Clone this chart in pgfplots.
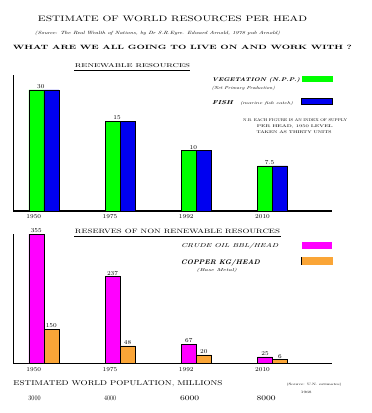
\documentclass[border=0pt]{standalone}
\usepackage{graphicx}
\usepackage{pgfplots}
\pgfplotsset{compat=1.18}
\definecolor{vgreen}{RGB}{0,255,0}
\definecolor{fblue}{RGB}{0,0,240}
\definecolor{oilmag}{RGB}{255,0,255}
\definecolor{copor}{RGB}{250,165,55}
\newcommand\fit[3]{\resizebox{#1pt}{#2pt}{#3}}
\newcommand\T[5]{\node[inner sep=0pt] at (#1pt,-#2pt) {\fit{#3}{#4}{#5}};}
\pgfplotsset{resbar/.style={scale only axis, width=318.7pt,
  axis x line=bottom, axis y line=left, axis line style={-, line width=1.3pt},
  ytick=\empty, xtick={0,1,2,3}, major tick length=0pt,
  xmin=-0.40, xmax=3.78, ymin=0, enlargelimits=false, clip=false,
  ybar, bar width=15pt,
  xticklabel style={font=\fontsize{6}{6}\selectfont, xshift=-10pt},
  every node near coord/.append style={font=\fontsize{6}{6}\selectfont, inner sep=1pt}}}
\begin{document}
\begin{tikzpicture}
\path (0pt,0pt) rectangle (372pt,-413pt);
% titles
\T{172.5}{19}{269}{5.7}{ESTIMATE OF WORLD RESOURCES PER HEAD}
\T{157.5}{33.5}{245}{3.4}{\itshape (Source: The Real Wealth of Nations, by Dr S.R.Eyre. Edward Arnold, 1978 pub Arnold)}
\T{182.5}{47}{339}{4.3}{\bfseries WHAT ARE WE ALL GOING TO LIVE ON AND WORK WITH ?}
% renewable
\T{132.5}{65.3}{115}{4}{RENEWABLE RESOURCES}
\draw[line width=0.8pt] (74pt,-70pt) -- (190pt,-70pt);
\T{256}{79.7}{88}{4}{\bfseries\itshape VEGETATION (N.P.P.)}
\T{243.3}{88.7}{63}{3.3}{\itshape (Net Primary Production)}
\T{222.5}{102.8}{21}{4}{\bfseries\itshape FISH}
\T{266.5}{103.3}{53}{3}{\itshape (marine fish catch)}
\fill[vgreen] (302.3pt,-75.7pt) rectangle (332.7pt,-81.7pt);
\filldraw[fill=fblue, draw=black, line width=0.6pt] (301.7pt,-98.3pt) rectangle (332.7pt,-104.7pt);
\T{295}{119.7}{104}{2.8}{N.B. EACH FIGURE IS AN INDEX OF SUPPLY}
\T{294.8}{126.3}{76}{2.8}{PER HEAD, 1950 LEVEL}
\T{294.2}{132.3}{75}{2.8}{TAKEN AS THIRTY UNITS}
% non renewable
\T{177.5}{231.7}{205}{4.5}{RESERVES OF NON RENEWABLE RESOURCES}
\draw[line width=0.8pt] (74pt,-236.7pt) -- (280.7pt,-236.7pt);
\T{229.7}{246.2}{97}{4.3}{\itshape CRUDE OIL BBL/HEAD}
\T{220.5}{262.5}{79}{5}{\bfseries\itshape COPPER KG/HEAD}
\T{216.7}{270.3}{40}{3.2}{\itshape (Base Metal)}
\fill[oilmag] (301.7pt,-242pt) rectangle (332pt,-249pt);
\fill[copor] (301pt,-257pt) rectangle (332.7pt,-264.7pt);
\draw[line width=0.8pt] (301pt,-257pt) -- (301pt,-264.7pt);
% population
\T{118}{383.5}{209}{5}{ESTIMATED WORLD POPULATION, MILLIONS}
\T{314.2}{384.5}{55}{2.4}{(Source: U.N. estimates)}
\T{306.3}{392.2}{10.7}{2.3}{1968}
\T{34.5}{398.3}{12.3}{4.7}{3000}
\T{110}{398.3}{12}{4.7}{4000}
\T{189.7}{398.3}{19}{4.7}{6000}
\T{266}{398.3}{19}{4.7}{8000}
% top chart
\begin{axis}[resbar, at={(13.3pt,-211pt)}, anchor=south west, height=136pt, ymax=33.7,
  xticklabels={1950,1975,1992,2010}]
\addplot[fill=vgreen, draw=black, line width=0.5pt, bar shift=-7.5pt,
  nodes near coords, point meta=explicit symbolic,
  every node near coord/.append style={xshift=4.5pt}]
  coordinates {(0,30)[30] (1,22.3)[15] (2,14.95)[10] (3,11.2)[7.5]};
\addplot[fill=fblue, draw=black, line width=0.5pt, bar shift=7.5pt]
  coordinates {(0,30) (1,22.3) (2,14.95) (3,11.2)};
\end{axis}
% bottom chart
\begin{axis}[resbar, at={(13.3pt,-363.7pt)}, anchor=south west, height=129.5pt, ymax=355,
  xticklabels={1950,1975,1992,2010}]
\addplot[fill=oilmag, draw=black, line width=0.5pt, bar shift=-7.5pt,
  nodes near coords, point meta=explicit symbolic]
  coordinates {(0,355)[355] (1,239)[237] (2,54)[67] (3,19)[25]};
\addplot[fill=copor, draw=black, line width=0.5pt, bar shift=7.5pt,
  nodes near coords, point meta=explicit symbolic]
  coordinates {(0,95)[150] (1,49)[48] (2,24.5)[20] (3,11)[6]};
\end{axis}
\end{tikzpicture}
\end{document}
